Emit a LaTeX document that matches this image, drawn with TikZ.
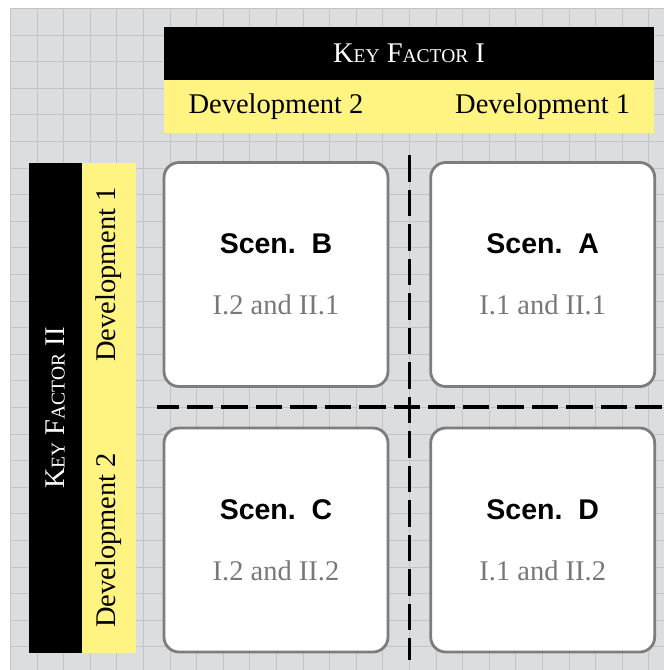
\documentclass[tikz,border=0pt]{standalone}
\usepackage{fontspec}
\setmainfont{Liberation Serif}
\setsansfont{Liberation Sans}
\definecolor{bggray}{RGB}{220,221,223}
\definecolor{gridgray}{RGB}{196,196,198}
\definecolor{hdryellow}{RGB}{255,244,130}
\definecolor{boxgray}{RGB}{125,125,125}
\definecolor{txtgray}{RGB}{120,120,120}
\newcommand\smallcapsfake[1]{{\fontsize{19.5}{20}\selectfont #1}}
\begin{document}
\begin{tikzpicture}[x=1pt,y=-1pt,
  gridline/.style={draw=gridgray, line width=1pt},
  blackbar/.style={fill=black, draw=none, inner sep=0pt, text=white, font=\fontsize{28.5}{30}\selectfont},
  yellowbar/.style={fill=hdryellow, draw=none, inner sep=0pt},
  devtext/.style={inner sep=0pt, text=black, font=\fontsize{28.5}{30}\selectfont},
  scenbox/.style={draw=boxgray, fill=white, line width=2.8pt, rounded corners=15pt,
    minimum width=224pt, minimum height=224pt, align=center, inner sep=0pt,
    font=\fontsize{28.5}{61}\selectfont},
  divider/.style={draw=black, line width=3.6pt, dash pattern=on 26.6pt off 7.9pt}
]
\useasboundingbox (0,0) rectangle (664,670);
\fill[bggray] (10,8) rectangle (664,670);
\begin{scope}
\clip (10,8) rectangle (664,670);
\foreach \i in {0,...,25} { \draw[gridline] (10.5+26.6*\i,8) -- (10.5+26.6*\i,670); }
\foreach \i in {0,...,25} { \draw[gridline] (10,8.5+26.6*\i) -- (664,8.5+26.6*\i); }
\end{scope}

% top header
\node[blackbar, minimum width=490pt, minimum height=53.3pt] (kf1) at (409,53.3)
  {K\smallcapsfake{EY} F\smallcapsfake{ACTOR} I};
\node[yellowbar, minimum width=490pt, minimum height=53.3pt] (topbar) at (409,106.7) {};
\node[devtext] (d2top) at (276,106.7) {Development 2};
\node[devtext] (d1top) at (542.7,106.7) {Development 1};

% left header
\node[blackbar, rotate=90, minimum width=490pt, minimum height=53pt] (kf2) at (55.5,408)
  {K\smallcapsfake{EY} F\smallcapsfake{ACTOR} II};
\node[yellowbar, minimum width=53.5pt, minimum height=490pt] (leftbar) at (108.75,408) {};
\node[devtext, rotate=90] (d1left) at (108.75,274.5) {Development 1};
\node[devtext, rotate=90] (d2left) at (108.75,540.5) {Development 2};

% dividers
\coordinate (vtop) at (409.3,155);
\coordinate (vbot) at (409.3,660);
\coordinate (hright) at (661.7,406.7);
\coordinate (hleft) at (156.7,406.7);
\draw[divider] (vtop) -- (vbot);
\draw[divider] (hright) -- (hleft);

% scenario boxes
\node[scenbox] (B) at (276,274.5) {{\sffamily\bfseries Scen.\ \ B}\\{\color{txtgray}I.2 and II.1}};
\node[scenbox] (A) at (542.7,274.5) {{\sffamily\bfseries Scen.\ \ A}\\{\color{txtgray}I.1 and II.1}};
\node[scenbox] (C) at (276,540) {{\sffamily\bfseries Scen.\ \ C}\\{\color{txtgray}I.2 and II.2}};
\node[scenbox] (D) at (542.7,540) {{\sffamily\bfseries Scen.\ \ D}\\{\color{txtgray}I.1 and II.2}};
\end{tikzpicture}
\end{document}
